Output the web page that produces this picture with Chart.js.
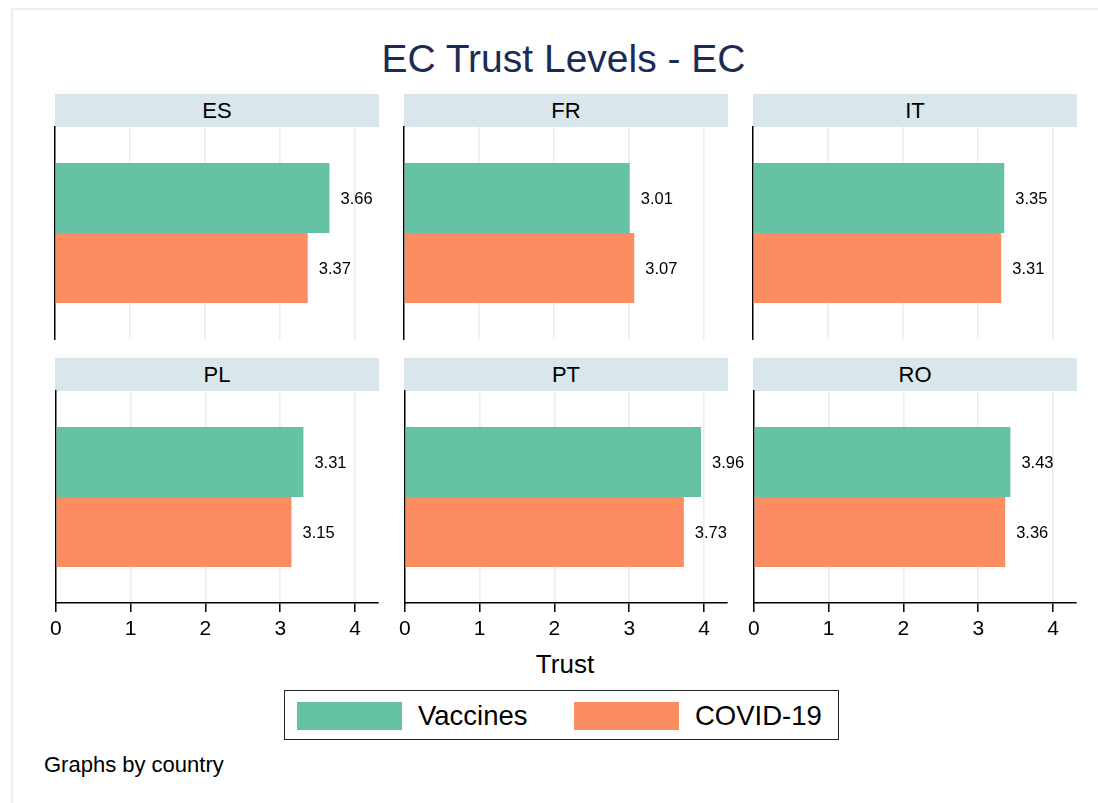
<!DOCTYPE html>
<html>
<head>
<meta charset="utf-8">
<script src="https://cdn.jsdelivr.net/npm/chart.js@4"></script>
<style>
  body { margin: 0; width: 1098px; height: 803px; overflow: hidden; background: #fff; font-family: "Liberation Sans", Arial, sans-serif; }
  .abs { position: absolute; }
  #frame { left: 11px; top: 8px; width: 1200px; height: 900px; border: 2px solid #e8eff1; }
  #title { left: 0; width: 1127px; top: 39px; text-align: center; font-size: 39px; line-height: 39px; color: #1c2b55; }
  .head { height: 33px; width: 324px; background: #d9e6ec; text-align: center; font-size: 22px; line-height: 33px; color: #000; }
  canvas { position: absolute; }
  #xtitle { left: 465px; width: 200px; top: 651px; text-align: center; font-size: 26px; line-height: 26px; }
  #legend { left: 284px; top: 690px; width: 553px; height: 48px; border: 1.5px solid #222; }
  .sw { width: 105px; height: 28px; }
  .lt { font-size: 27.5px; line-height: 27.5px; }
  #note { left: 44px; top: 754px; font-size: 22px; line-height: 22px; }
</style>
</head>
<body>
<div id="frame" class="abs"></div>
<div id="title" class="abs">EC Trust Levels - EC</div>
<div id="panels"></div>
<div id="xtitle" class="abs">Trust</div>
<div id="legend" class="abs"></div>
<div id="note" class="abs">Graphs by country</div>
<script>
const countries = ['ES', 'FR', 'IT', 'PL', 'PT', 'RO'];
const vaccines = [3.66, 3.01, 3.35, 3.31, 3.96, 3.43];
const covid = [3.37, 3.07, 3.31, 3.15, 3.73, 3.36];
const seriesNames = ['Vaccines', 'COVID-19'];
const seriesColors = ['#66c2a5', '#fc8d62'];
const xTicks = [0, 1, 2, 3, 4];
const xMax = 4.307;

const FONT = '"Liberation Sans", Arial, sans-serif';
const colLeft = [55, 404, 753];
const rowTop = [127, 391];
const plotW = 323;
const plotH = 212;

// value labels to the right of each bar
const valueLabels = {
  id: 'valueLabels',
  afterDatasetsDraw(chart) {
    const ctx = chart.ctx;
    ctx.save();
    ctx.font = '16.5px ' + FONT;
    ctx.fillStyle = '#000';
    ctx.textBaseline = 'middle';
    chart.data.datasets.forEach((ds, i) => {
      chart.getDatasetMeta(i).data.forEach((bar, j) => {
        ctx.fillText(ds.data[j].toFixed(2), bar.x + 11, bar.y + 1);
      });
    });
    ctx.restore();
  }
};

const panels = document.getElementById('panels');

countries.forEach((c, k) => {
  const col = k % 3, row = Math.floor(k / 3);
  const L = colLeft[col], T = rowTop[row];
  const bottomRow = row === 1;

  const head = document.createElement('div');
  head.className = 'abs head';
  head.style.left = L + 'px';
  head.style.top = (T - 33) + 'px';
  head.textContent = c;
  panels.appendChild(head);

  const cv = document.createElement('canvas');
  const w = 10 + plotW + 60;
  const h = 5 + plotH + (bottomRow ? 40 : 5);
  cv.width = w; cv.height = h;
  cv.style.left = (L - 10) + 'px';
  cv.style.top = (T - 5) + 'px';
  cv.style.width = w + 'px';
  cv.style.height = h + 'px';
  panels.appendChild(cv);

  new Chart(cv, {
    type: 'bar',
    data: {
      labels: [c],
      datasets: [
        { label: seriesNames[0], data: [vaccines[k]], backgroundColor: seriesColors[0] },
        { label: seriesNames[1], data: [covid[k]], backgroundColor: seriesColors[1] }
      ]
    },
    options: {
      indexAxis: 'y',
      responsive: false,
      animation: false,
      devicePixelRatio: 1,
      categoryPercentage: 0.66,
      barPercentage: 1.0,
      layout: { padding: { left: 10, right: 60, top: 5, bottom: bottomRow ? 0 : 5 } },
      plugins: { legend: { display: false }, tooltip: { enabled: false } },
      scales: {
        x: {
          min: 0,
          max: xMax,
          afterBuildTicks: s => { s.ticks = xTicks.map(v => ({ value: v })); },
          afterFit: s => { s.height = bottomRow ? 40 : 0; },
          grid: {
            color: ctx => (ctx.tick && ctx.tick.value === 0) ? 'rgba(0,0,0,0)' : '#e4edf0',
            lineWidth: 1.6,
            drawTicks: bottomRow,
            tickLength: 9,
            tickColor: '#000',
            tickWidth: 1.5
          },
          border: { display: bottomRow, color: '#000', width: 1.5 },
          ticks: {
            display: bottomRow,
            padding: 5,
            color: '#000',
            font: { family: FONT, size: 21 }
          }
        },
        y: {
          afterFit: s => { s.width = 0; },
          grid: { color: 'rgba(0,0,0,0)', drawTicks: false },
          border: { display: true, color: '#000', width: 1.5 },
          ticks: { display: false }
        }
      }
    },
    plugins: [valueLabels]
  });
});

// legend
const legend = document.getElementById('legend');
const legendPos = [[12, 118], [289, 395]];
seriesNames.forEach((name, i) => {
  const sw = document.createElement('div');
  sw.className = 'abs sw';
  sw.style.left = legendPos[i][0] + 'px';
  sw.style.top = '11px';
  sw.style.background = seriesColors[i];
  legend.appendChild(sw);
  const t = document.createElement('div');
  t.className = 'abs lt';
  t.style.left = (legendPos[i][1] + 15) + 'px';
  t.style.top = '11px';
  t.textContent = name;
  legend.appendChild(t);
});
</script>
</body>
</html>
